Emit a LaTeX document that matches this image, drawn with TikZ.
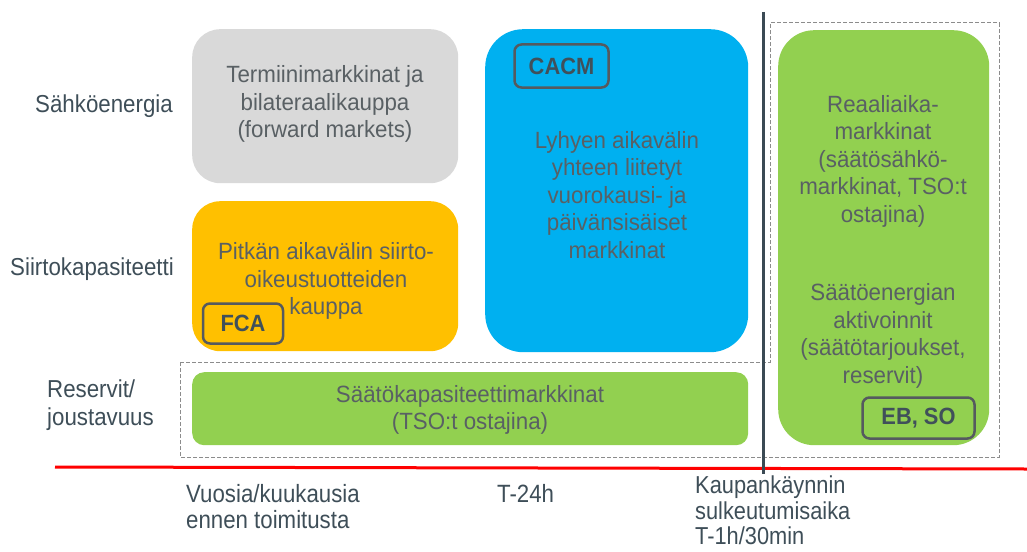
\documentclass[tikz,border=0pt]{standalone}
\usepackage{fontspec}
\setmainfont{Liberation Sans}
\newfontfamily\boxfont[FakeStretch=0.95]{Liberation Sans}
\newfontfamily\lblfont[FakeStretch=0.91]{Liberation Sans}
\newfontfamily\botfont[FakeStretch=0.89]{Liberation Sans}
\newfontfamily\tagfont[FakeStretch=0.93]{Liberation Sans}
\definecolor{boxtxt}{RGB}{89,96,100}
\definecolor{lbl}{RGB}{62,78,88}
\definecolor{cgray}{RGB}{217,217,217}
\definecolor{corange}{RGB}{255,192,0}
\definecolor{cblue}{RGB}{0,176,240}
\definecolor{cgreen}{RGB}{146,208,80}
\definecolor{tagc}{RGB}{85,90,95}
\definecolor{tagtxt}{RGB}{64,80,90}
\definecolor{vline}{RGB}{59,74,84}
\definecolor{dashc}{RGB}{140,140,140}
\begin{document}
\begin{tikzpicture}[x=1pt,y=-1pt,
  mbox/.style={draw=none,inner sep=0pt,anchor=north west},
  btext/.style={text=boxtxt,align=center,inner sep=0pt,font=\boxfont\fontsize{23.5}{27.5}\selectfont},
  ltext/.style={text=lbl,align=left,inner sep=0pt,anchor=west,font=\lblfont\fontsize{24.5}{28}\selectfont},
  ttext/.style={text=lbl,align=left,inner sep=0pt,anchor=north west,font=\botfont\fontsize{25}{26.5}\selectfont},
  tagbox/.style={draw=tagc,line width=2.5pt,rounded corners=7pt,inner sep=0pt,text=tagtxt,font=\tagfont\fontsize{23.5}{26}\selectfont\bfseries},
  dashline/.style={draw=dashc,line width=1pt,dash pattern=on 4pt off 2pt}
]
\useasboundingbox (0,0) rectangle (1027,551);
% boxes
\node[mbox,fill=cgray,rounded corners=28pt,minimum width=266pt,minimum height=154pt] (gray) at (192,29) {};
\node[mbox,fill=corange,rounded corners=28pt,minimum width=266pt,minimum height=150pt] (orange) at (192,201) {};
\node[mbox,fill=cblue,rounded corners=38pt,minimum width=263pt,minimum height=323pt] (blue) at (485,29) {};
\node[mbox,fill=cgreen,rounded corners=12pt,minimum width=556pt,minimum height=73pt] (glow) at (192,372) {};
\node[mbox,fill=cgreen,rounded corners=36pt,minimum width=211pt,minimum height=415pt] (gright) at (778,30) {};
% dashed outline
\coordinate (d1) at (180,362);
\coordinate (d2) at (770,362);
\coordinate (d3) at (770,23);
\coordinate (d4) at (999,23);
\coordinate (d5) at (999,457);
\coordinate (d6) at (180,457);
\draw[dashline] (d1) -- (d2) -- (d3) -- (d4) -- (d5) -- (d6) -- cycle;
% red timeline
\coordinate (r1) at (55,467);
\coordinate (r2) at (1027,469);
\draw[red,line width=3pt] (r1) -- (r2);
% vertical gate closure line
\coordinate (v1) at (763,12);
\coordinate (v2) at (763,474);
\draw[vline,line width=3pt] (v1) -- (v2);
% box texts
\node[btext] (tgray) at (325,104) {Termiinimarkkinat ja\\bilateraalikauppa\\(forward markets)};
\node[btext] (torange) at (326,281) {Pitkän aikavälin siirto-\\oikeustuotteiden\\kauppa};
\node[btext] (tblue) at (617,195) {Lyhyen aikavälin\\yhteen liitetyt\\vuorokausi- ja\\päivänsisäiset\\markkinat};
\node[btext] (tglow) at (470,410) {Säätökapasiteettimarkkinat\\(TSO:t ostajina)};
\node[btext] (tgr1) at (883,161) {Reaaliaika-\\markkinat\\(säätösähkö-\\markkinat, TSO:t\\ostajina)};
\node[btext] (tgr2) at (883,336) {Säätöenergian\\aktivoinnit\\(säätötarjoukset,\\reservit)};
% tags
\node[tagbox,minimum width=94pt,minimum height=43pt] (cacm) at (561.5,66) {CACM};
\node[tagbox,minimum width=80pt,minimum height=40pt] (fca) at (243,323.5) {FCA};
\node[tagbox,minimum width=112pt,minimum height=41pt] (ebso) at (918.5,418) {EB, SO};
% left labels
\node[ltext] (l1) at (35,106) {Sähköenergia};
\node[ltext] (l2) at (10,269) {Siirtokapasiteetti};
\node[ltext] (l3) at (47,405) {Reservit/\\joustavuus};
% bottom labels
\node[ttext] (b1) at (186,484) {Vuosia/kuukausia\\ennen toimitusta};
\node[ttext] (b2) at (497,484) {T-24h};
\node[ttext,font=\botfont\fontsize{24.5}{25.5}\selectfont] (b3) at (695,476) {Kaupankäynnin\\sulkeutumisaika\\T-1h/30min};
\end{tikzpicture}
\end{document}
